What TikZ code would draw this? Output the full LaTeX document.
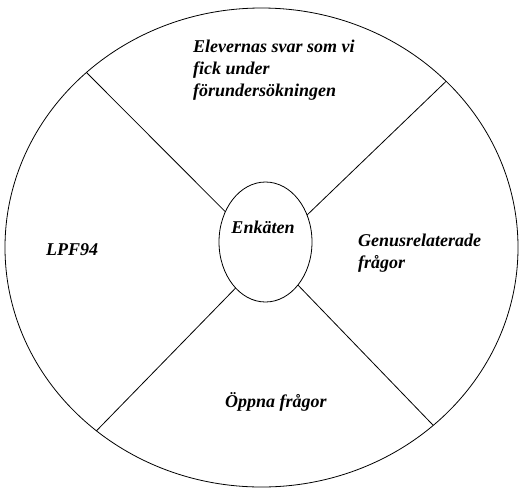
\documentclass[tikz,border=0pt]{standalone}
\usepackage{fontspec}
\setmainfont{Liberation Serif}
\usetikzlibrary{shapes.geometric}

\begin{document}
\begin{tikzpicture}[x=1pt,y=-1pt]
    \tikzstyle{ring} = [draw,shape=ellipse,inner sep=0pt,outer sep=0pt,line width=0.8pt]
\tikzstyle{spoke} = [draw,line width=0.8pt]
\tikzstyle{lbl} = [inner sep=0pt,font=\fontsize{18}{22}\selectfont\bfseries\itshape,align=left]

\useasboundingbox (0,0) rectangle (519,488);

\node[ring,minimum width=513pt,minimum height=479pt] (outer) at (261.5,247.5) {};
\node[ring,minimum width=93pt,minimum height=120pt] (core) at (265.5,242) {};

\draw[spoke] (core.143.5) -- (outer.135.7);
\draw[spoke] (core.33) -- (outer.42.9);
\draw[spoke] (core.237.7) -- (outer.228);
\draw[spoke] (core.307) -- (outer.314.8);

\node[lbl,anchor=base] (enk) at (263,233) {Enkäten};
\node[lbl,anchor=north west] (elev) at (193,40) {Elevernas svar som vi\\fick under\\förundersökningen};
\node[lbl,anchor=base west] (lpf) at (46,255) {LPF94};
\node[lbl,anchor=north west] (genus) at (358,234) {Genusrelaterade\\frågor};
\node[lbl,anchor=base west] (oppna) at (225,407) {Öppna frågor};

\end{tikzpicture}
\end{document}
